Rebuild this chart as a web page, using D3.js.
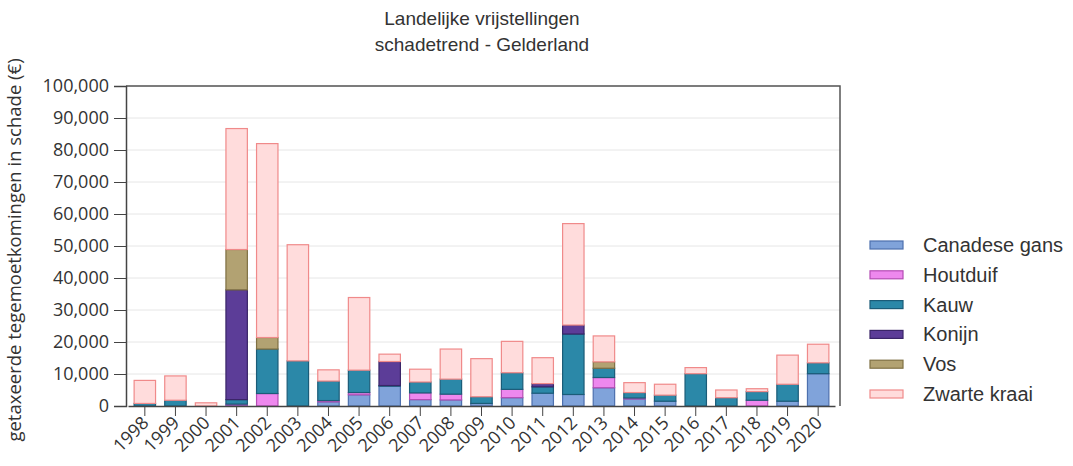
<!DOCTYPE html>
<html>
<head>
<meta charset="utf-8">
<title>Landelijke vrijstellingen schadetrend - Gelderland</title>
<script src="https://cdn.jsdelivr.net/npm/d3@7"></script>
<style>
body { margin: 0; background: #fff; font-family: "Liberation Sans", Arial, sans-serif; }
svg { display: block; }
.title { font: 19px "Liberation Sans", Arial, sans-serif; fill: #333; }
.axis text { font: 18px "Open Sans", sans-serif; fill: #333; }
.axis path, .axis line { stroke: #444; }
.grid line { stroke: #e6e6e6; }
.legend text { font: 20px "Liberation Sans", Arial, sans-serif; fill: #333; }
</style>
</head>
<body>
<script>
// years on the x axis
const years = ['1998','1999','2000','2001','2002','2003','2004','2005','2006','2007','2008',
  '2009','2010','2011','2012','2013','2014','2015','2016','2017','2018','2019','2020']

// series, bottom to top (values in euro)
const species = ['Canadese gans','Houtduif','Kauw','Konijn','Vos','Zwarte kraai']
const canadeseGans = [0,0,0,300,0,0,1300,3500,6200,2000,1900,800,2600,4000,3600,5700,2200,1500,0,0,0,1500,10100]
const houtduif     = [0,0,0,300,3900,0,400,700,0,2100,1800,0,2600,0,0,3200,300,0,0,0,1800,0,0]
const kauw         = [800,1800,0,1400,13900,14100,6100,7000,200,3400,4700,2100,5200,2000,18900,2900,1700,1900,10100,2600,2700,5300,3400]
const konijn       = [0,0,0,34300,0,0,0,0,7500,0,0,0,0,1000,2800,0,0,0,0,0,0,0,0]
const vos          = [0,0,0,12600,3600,0,0,0,0,0,0,0,0,0,0,2000,0,0,0,0,0,0,0]
const zwarteKraai  = [7200,7600,1000,37800,60600,36300,3500,22700,2300,4000,9400,11900,9800,8100,31700,8100,3100,3400,1900,2400,900,9100,5800]

const yTicks = [0,10000,20000,30000,40000,50000,60000,70000,80000,90000,100000]

const fills   = ['#80a3da','#ee88ee','#2b88a8','#5c3d98','#b2a272','#ffdcdc']
const strokes = ['#4d70ae','#b44db4','#1b5c78','#3a2568','#7f7043','#f08a8a']

const seriesByName = {
  'Canadese gans': canadeseGans, 'Houtduif': houtduif, 'Kauw': kauw,
  'Konijn': konijn, 'Vos': vos, 'Zwarte kraai': zwarteKraai
}
const rows = years.map((y, i) => {
  const r = { year: y }
  species.forEach(s => r[s] = seriesByName[s][i])
  return r
})

const W = 1073, H = 466
const margin = { top: 86, right: 233, bottom: 60, left: 126 }
const width = W - margin.left - margin.right
const height = H - margin.top - margin.bottom

const svg = d3.select('body').append('svg')
  .attr('width', W).attr('height', H)

// title
svg.append('text').attr('class', 'title')
  .attr('x', 482).attr('y', 25).attr('text-anchor', 'middle')
  .text('Landelijke vrijstellingen')
svg.append('text').attr('class', 'title')
  .attr('x', 482).attr('y', 51).attr('text-anchor', 'middle')
  .text('schadetrend - Gelderland')

const g = svg.append('g').attr('transform', `translate(${margin.left},${margin.top})`)

const x = d3.scaleBand().domain(years).range([2, 709]).paddingInner(0.3).paddingOuter(0.2)
const y = d3.scaleLinear().domain([0, 100000]).range([height, 0])

// gridlines
g.append('g').attr('class', 'grid')
  .selectAll('line').data(yTicks.slice(1)).join('line')
    .attr('x1', 0).attr('x2', width)
    .attr('y1', d => y(d)).attr('y2', d => y(d))

// stacked bars
const stacked = d3.stack().keys(species)(rows)
g.selectAll('.layer').data(stacked).join('g')
    .attr('class', 'layer')
    .attr('fill', (d, i) => fills[i])
    .attr('stroke', (d, i) => strokes[i])
  .selectAll('rect').data(d => d.filter(p => p[1] - p[0] > 0)).join('rect')
    .attr('x', d => x(d.data.year))
    .attr('width', x.bandwidth())
    .attr('y', d => y(d[1]))
    .attr('height', d => y(d[0]) - y(d[1]))
    .attr('stroke-width', 1.2)

// frame (top and right)
g.append('path')
  .attr('d', `M0,0H${width}V${height}`)
  .attr('fill', 'none').attr('stroke', '#555').attr('stroke-width', 1.5)

// y axis
g.append('g').attr('class', 'axis')
  .call(d3.axisLeft(y).tickValues(yTicks).tickFormat(d3.format(',')).tickSize(12).tickPadding(5))
  .call(a => a.select('.domain').attr('stroke-width', 1.5))

// x axis
g.append('g').attr('class', 'axis')
  .attr('transform', `translate(0,${height})`)
  .call(d3.axisBottom(x).tickSize(10).tickSizeOuter(0))
  .call(a => a.select('.domain').attr('stroke-width', 1.5))
  .selectAll('text')
    .attr('y', 0).attr('dy', 0)
    .attr('text-anchor', 'end')
    .attr('transform', 'translate(5,18) rotate(-45)')

// y axis title
svg.append('text')
  .attr('transform', 'rotate(-90)')
  .attr('x', -250).attr('y', 21)
  .attr('text-anchor', 'middle')
  .style('font', '18.5px "Open Sans", sans-serif').style('fill', '#333')
  .text('getaxeerde tegemoetkomingen in schade (€)')

// legend
const legend = svg.append('g').attr('class', 'legend')
  .attr('transform', 'translate(870,245)')
const item = legend.selectAll('g').data(species).join('g')
  .attr('transform', (d, i) => `translate(0,${i * 29.8})`)
item.append('rect')
  .attr('x', 0).attr('y', -4).attr('width', 33).attr('height', 8)
  .attr('fill', (d, i) => fills[i]).attr('stroke', (d, i) => strokes[i]).attr('stroke-width', 1.2)
item.append('text')
  .attr('x', 53).attr('y', 7)
  .text(d => d)
</script>
</body>
</html>
